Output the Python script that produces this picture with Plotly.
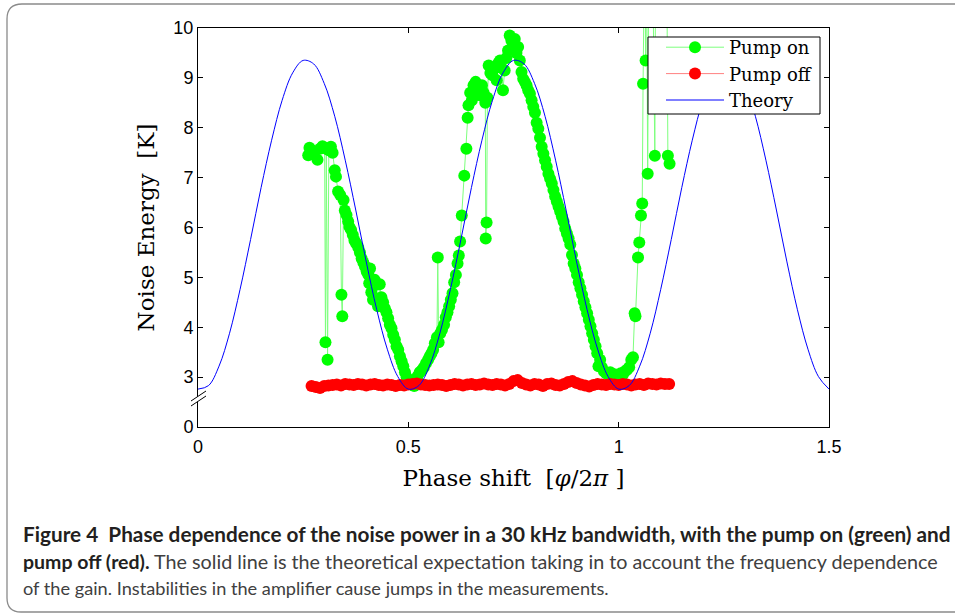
import plotly.graph_objects as go

# ---------------- data ----------------
theory_x = [round(i * 0.025, 3) for i in range(61)]
theory_y = [2.76, 2.83, 3.22, 3.88, 4.76, 5.76, 6.80, 7.75, 8.55, 9.10,
            9.35, 9.28, 8.89, 8.23, 7.35, 6.35, 5.31, 4.35, 3.56, 3.01,
            2.76, 2.83, 3.22, 3.88, 4.76, 5.76, 6.80, 7.75, 8.55, 9.10,
            9.35, 9.28, 8.89, 8.23, 7.35, 6.35, 5.31, 4.35, 3.56, 3.01,
            2.76, 2.83, 3.22, 3.88, 4.76, 5.76, 6.80, 7.75, 8.55, 9.10,
            9.35, 9.28, 8.89, 8.23, 7.35, 6.35, 5.31, 4.35, 3.56, 3.01,
            2.76]

pump_on_x = [0.262, 0.265, 0.270, 0.276, 0.284, 0.290, 0.296, 0.301, 0.303, 0.305,
             0.308, 0.311, 0.316, 0.320, 0.325, 0.328, 0.333, 0.338, 0.341, 0.343,
             0.346, 0.349, 0.353, 0.357, 0.360, 0.364, 0.368, 0.372, 0.376, 0.381,
             0.385, 0.389, 0.393, 0.397, 0.401, 0.405, 0.407, 0.409, 0.412, 0.416,
             0.420, 0.424, 0.428, 0.432, 0.436, 0.440, 0.444, 0.448, 0.452, 0.456,
             0.460, 0.464, 0.468, 0.472, 0.476, 0.480, 0.484, 0.488, 0.492, 0.496,
             0.500, 0.505, 0.510, 0.514, 0.518, 0.522, 0.527, 0.532, 0.537, 0.542,
             0.547, 0.551, 0.555, 0.559, 0.563, 0.568, 0.570, 0.572, 0.576, 0.580,
             0.585, 0.589, 0.593, 0.597, 0.601, 0.605, 0.609, 0.613, 0.617, 0.620,
             0.623, 0.627, 0.633, 0.638, 0.641, 0.643, 0.647, 0.651, 0.655, 0.660,
             0.665, 0.670, 0.675, 0.679, 0.683, 0.684, 0.686, 0.688, 0.691, 0.695,
             0.700, 0.705, 0.710, 0.714, 0.718, 0.722, 0.725, 0.729, 0.733, 0.737,
             0.741, 0.745, 0.749, 0.753, 0.757, 0.761, 0.765, 0.769, 0.773, 0.777,
             0.781, 0.785, 0.789, 0.793, 0.797, 0.801, 0.805, 0.809, 0.813, 0.817,
             0.821, 0.825, 0.829, 0.833, 0.837, 0.841, 0.845, 0.849, 0.853, 0.857,
             0.861, 0.865, 0.869, 0.873, 0.877, 0.881, 0.885, 0.889, 0.893, 0.897,
             0.901, 0.905, 0.909, 0.913, 0.917, 0.921, 0.925, 0.929, 0.933, 0.937,
             0.941, 0.945, 0.949, 0.952, 0.956, 0.960, 0.965, 0.970, 0.975, 0.980,
             0.985, 0.990, 0.995, 1.000, 1.005, 1.010, 1.015, 1.020, 1.025, 1.030,
             1.034, 1.038, 1.040, 1.046, 1.049, 1.053, 1.056, 1.058, 1.062, 1.064,
             1.066, 1.069, 1.072, 1.080, 1.086, 1.088, 1.114, 1.117, 1.121]
pump_on_y = [7.45, 7.60, 7.55, 7.50, 7.36, 7.58, 7.63, 7.60, 3.70, 7.58,
             3.35, 7.55, 7.62, 7.50, 7.15, 7.02, 6.72, 6.65, 4.65, 4.22,
             6.55, 6.34, 6.25, 6.12, 6.01, 5.95, 5.85, 5.74, 5.68, 5.60,
             5.50, 5.38, 5.30, 5.22, 5.12, 5.05, 4.88, 5.18, 4.70, 4.55,
             4.95, 4.85, 4.42, 4.86, 4.60, 4.50, 4.38, 4.30, 4.18, 4.05,
             3.98, 3.85, 3.75, 3.62, 3.55, 3.42, 3.32, 3.22, 3.10, 3.00,
             2.95, 2.88, 2.84, 2.82, 2.90, 3.02, 3.10, 3.14, 3.20, 3.28,
             3.35, 3.42, 3.48, 3.55, 3.68, 3.80, 5.40, 3.70, 3.88, 3.95,
             4.05, 4.20, 4.30, 4.42, 4.55, 4.68, 4.90, 5.05, 5.28, 5.44,
             5.72, 6.24, 7.04, 7.58, 8.20, 8.45, 8.70, 8.55, 8.85, 8.92,
             8.80, 8.65, 8.85, 8.70, 8.50, 5.78, 6.10, 8.60, 9.25, 9.10,
             9.05, 9.20, 8.95, 9.30, 9.35, 9.20, 8.75, 9.15, 9.40, 9.55,
             9.85, 9.75, 9.65, 9.78, 9.50, 9.62, 9.35, 9.12, 8.98, 8.92,
             8.85, 8.75, 8.68, 8.55, 8.42, 8.30, 8.10, 7.98, 7.80, 7.62,
             7.48, 7.35, 7.22, 7.08, 6.98, 6.88, 6.75, 6.62, 6.52, 6.42,
             6.32, 6.22, 6.12, 5.98, 5.88, 5.78, 5.66, 5.45, 5.28, 5.18,
             5.05, 4.90, 4.78, 4.65, 4.52, 4.40, 4.28, 4.15, 4.02, 3.88,
             3.75, 3.62, 3.48, 3.22, 3.35, 3.20, 3.12, 3.08, 3.05, 3.10,
             3.02, 3.06, 3.00, 3.04, 3.08, 3.05, 3.12, 3.15, 3.20, 3.35,
             3.40, 4.28, 4.22, 5.40, 5.70, 6.24, 6.48, 8.88, 12.0, 9.35,
             12.0, 7.08, 12.0, 12.0, 7.44, 12.0, 12.0, 7.44, 7.28]

pump_off_x = [round(0.27 + i * 0.01, 2) for i in range(86)]
pump_off_y = [2.82, 2.80, 2.78, 2.82, 2.83, 2.84, 2.85, 2.83, 2.86, 2.85,
              2.84, 2.86, 2.85, 2.83, 2.85, 2.86, 2.84, 2.83, 2.85, 2.84,
              2.82, 2.84, 2.83, 2.85, 2.86, 2.87, 2.85, 2.84, 2.83, 2.84,
              2.85, 2.84, 2.82, 2.84, 2.86, 2.85, 2.83, 2.85, 2.86, 2.84,
              2.85, 2.87, 2.85, 2.84, 2.86, 2.85, 2.83, 2.86, 2.92, 2.94,
              2.88, 2.85, 2.83, 2.86, 2.85, 2.82, 2.86, 2.87, 2.84, 2.83,
              2.86, 2.90, 2.92, 2.88, 2.85, 2.83, 2.81, 2.84, 2.86, 2.85,
              2.84, 2.86, 2.85, 2.84, 2.86, 2.85, 2.83, 2.85, 2.86, 2.84,
              2.87, 2.86, 2.85, 2.87, 2.86, 2.86]

x_tick_vals = [0, 0.5, 1, 1.5]
x_tick_text = ["0", "0.5", "1", "1.5"]
y_tick_vals = [2, 3, 4, 5, 6, 7, 8, 9, 10]
y_tick_text = ["0", "3", "4", "5", "6", "7", "8", "9", "10"]

# ---------------- figure ----------------
W, H = 955, 613
L, R, T, B = 198, 829, 28, 427  # plot area in pixels


def px(x):
    return (x - L) / (R - L)


def py(y):
    return (B - y) / (B - T)


fig = go.Figure()
fig.add_trace(go.Scatter(
    x=pump_on_x, y=pump_on_y, mode="lines+markers", name="Pump on",
    line=dict(color="#7dff7d", width=1),
    marker=dict(color="#00ff00", size=12, line=dict(width=0)),
))
fig.add_trace(go.Scatter(
    x=pump_off_x, y=pump_off_y, mode="lines+markers", name="Pump off",
    line=dict(color="#ff8080", width=1),
    marker=dict(color="#ff0000", size=12, line=dict(width=0)),
))
fig.add_trace(go.Scatter(
    x=theory_x, y=theory_y, mode="lines", name="Theory",
    line=dict(color="#0000ff", width=1, shape="spline", smoothing=1.0),
))

axis_common = dict(
    showline=True, linecolor="black", linewidth=1, mirror="ticks",
    ticks="inside", ticklen=5, tickcolor="black", showgrid=False,
    zeroline=False, tickfont=dict(family="Liberation Sans, Arial", size=18, color="black"),
)

title_font = dict(family="DejaVu Serif, serif", size=23, color="black")
fig.update_xaxes(range=[0, 1.5], tickvals=x_tick_vals, ticktext=x_tick_text,
                 ticklabelstandoff=3,
                 title=dict(text="Phase shift  [<i>φ</i>/2<i>π</i> ]", font=title_font, standoff=14),
                 **axis_common)
fig.update_yaxes(range=[2, 10], tickvals=y_tick_vals, ticktext=y_tick_text,
                 title=dict(text="Noise Energy  [K]", font=title_font, standoff=12),
                 **axis_common)

shapes = [
    # axis break
    dict(type="path", xref="paper", yref="paper",
         path=f"M {px(191)} {py(401)} L {px(206)} {py(391)} L {px(206)} {py(396)} L {px(191)} {py(406)} Z",
         fillcolor="white", line=dict(width=0), layer="above"),
    dict(type="line", xref="paper", yref="paper", x0=px(191), y0=py(401), x1=px(206), y1=py(391),
         line=dict(color="black", width=1), layer="above"),
    dict(type="line", xref="paper", yref="paper", x0=px(191), y0=py(406), x1=px(206), y1=py(396),
         line=dict(color="black", width=1), layer="above"),
    # legend box
    dict(type="rect", xref="paper", yref="paper", x0=px(648), y0=py(114), x1=px(820), y1=py(37),
         fillcolor="white", line=dict(color="black", width=1), layer="above"),
    # figure frame
    dict(type="path", xref="paper", yref="paper",
         path=(f"M {px(960)} {py(4)} L {px(22)} {py(4)} Q {px(7)} {py(4)} {px(7)} {py(19)} "
               f"L {px(7)} {py(598)} Q {px(7)} {py(612)} {px(21)} {py(612)} L {px(960)} {py(612)}"),
         line=dict(color="#8a8a8a", width=1.3), layer="below"),
]

cap_family = "Lato, Open Sans, sans-serif"
annotations = [
    dict(xref="paper", yref="paper", x=px(21), y=py(534), xanchor="left", yanchor="middle",
         showarrow=False, font=dict(family=cap_family, size=20.75, color="#231f20"),
         text="<b>Figure 4  Phase dependence of the noise power in a 30 kHz bandwidth, with the pump on (green) and</b>"),
    dict(xref="paper", yref="paper", x=px(21), y=py(561), xanchor="left", yanchor="middle",
         showarrow=False, font=dict(family=cap_family, size=19.5, color="#231f20"),
         text="<b>pump off (red).</b>"),
    dict(xref="paper", yref="paper", x=px(152), y=py(561), xanchor="left", yanchor="middle",
         showarrow=False, font=dict(family=cap_family, size=19.75, color="#404040"),
         text="The solid line is the theoretical expectation taking in to account the frequency dependence"),
    dict(xref="paper", yref="paper", x=px(21), y=py(588), xanchor="left", yanchor="middle",
         showarrow=False, font=dict(family=cap_family, size=18.2, color="#404040"),
         text="of the gain. Instabilities in the amplifier cause jumps in the measurements."),
]

fig.update_layout(
    width=W, height=H,
    margin=dict(l=L, r=W - R, t=T, b=H - B),
    plot_bgcolor="white", paper_bgcolor="white",
    shapes=shapes, annotations=annotations,
    legend=dict(x=px(661), y=py(29), xanchor="left", yanchor="top",
                bgcolor="rgba(0,0,0,0)", borderwidth=0,
                font=dict(family="DejaVu Serif, serif", size=18, color="black"),
                itemwidth=58, tracegroupgap=0),
    showlegend=True,
)

fig.write_html("out.html", post_script="document.body.style.margin='0px';",
               config={"displayModeBar": False})
